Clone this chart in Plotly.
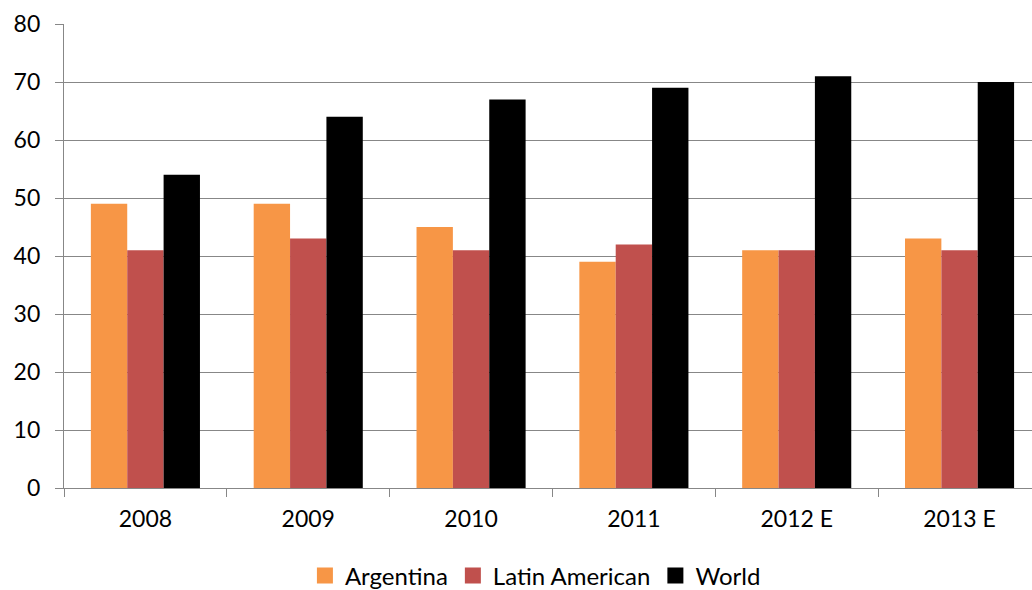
import plotly.graph_objects as go

# Index values by year (E = estimate)
years = ["2008", "2009", "2010", "2011", "2012 E", "2013 E"]
argentina = [49, 49, 45, 39, 41, 43]
latin_american = [41, 43, 41, 42, 41, 41]
world = [54, 64, 67, 69, 71, 70]

series_names = ["Argentina", "Latin American", "World"]
series_colors = ["#F79646", "#C0504D", "#000000"]
series_values = [argentina, latin_american, world]

grid_color = "#878787"
font_family = "Lato, 'Open Sans', sans-serif"

fig = go.Figure()

for name, color, values in zip(series_names, series_colors, series_values):
    fig.add_trace(go.Bar(
        x=years, y=values, name=name,
        marker=dict(color=color, line=dict(width=0)),
        showlegend=False,
    ))

# Larger square swatches for the legend
for name, color in zip(series_names, series_colors):
    fig.add_trace(go.Scatter(
        x=[None], y=[None], mode="markers", name=name,
        marker=dict(symbol="square", size=17, color=color),
        showlegend=True,
    ))

fig.update_layout(
    width=1032, height=590,
    margin=dict(l=64, r=0, t=24, b=102, pad=0, autoexpand=False),
    paper_bgcolor="white", plot_bgcolor="white",
    barmode="group", bargap=0.33, bargroupgap=0,
    font=dict(family=font_family, size=23, color="#000000"),
    legend=dict(
        orientation="h", x=0.487, xanchor="center",
        yref="container", y=0.024, yanchor="middle",
        font=dict(size=24), itemwidth=30, tracegroupgap=0,
    ),
    xaxis=dict(
        type="category", range=[-0.5, 5.445],
        tickson="boundaries", ticks="outside", ticklen=8, tickcolor=grid_color, tickwidth=1.3,
        showline=True, linecolor=grid_color, linewidth=1.3,
        showgrid=False, zeroline=False, ticklabelstandoff=10,
    ),
    yaxis=dict(
        range=[0, 80], dtick=10, tick0=0,
        ticks="outside", ticklen=8, tickcolor=grid_color, tickwidth=1.3,
        showline=True, linecolor=grid_color, linewidth=1.3,
        showgrid=True, gridcolor=grid_color, gridwidth=1.3,
        zeroline=False, ticklabelstandoff=10,
    ),
)

fig.write_html("out.html")
